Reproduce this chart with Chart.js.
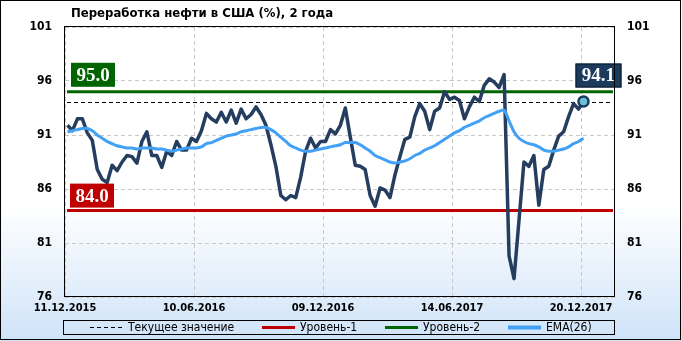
<!DOCTYPE html>
<html lang="ru">
<head>
<meta charset="UTF-8">
<title>Переработка нефти в США</title>
<script src="https://cdn.jsdelivr.net/npm/chart.js"></script>
<style>
  html, body { margin: 0; padding: 0; background: #fff; }
  #wrap { width: 682px; height: 341px; }
</style>
</head>
<body>
<div id="wrap"><canvas id="myChart" width="682" height="341"></canvas></div>
<script>
// данные (недельные значения, %)
const refinery = [
  91.9, 91.4, 92.5, 92.5, 91.2, 90.5, 87.8, 86.9, 86.6, 88.2,
  87.7, 88.5, 89.1, 89.0, 88.4, 90.4, 91.3, 89.1, 89.1, 88.0,
  89.5, 89.1, 90.4, 89.6, 89.6, 90.7, 90.4, 91.4, 93.0, 92.5,
  92.2, 93.1, 92.2, 93.3, 92.1, 93.4, 92.5, 92.9, 93.6, 92.9,
  91.9, 90.1, 88.1, 85.4, 85.0, 85.4, 85.2, 87.1, 89.5, 90.7,
  89.8, 90.4, 90.4, 91.5, 91.1, 91.9, 93.5, 90.8, 88.2, 88.1,
  87.8, 85.4, 84.4, 86.1, 85.9, 85.2, 87.3, 89.0, 90.6, 90.8,
  92.7, 93.9, 93.2, 91.5, 93.2, 93.5, 95.0, 94.3, 94.5, 94.2,
  92.5, 93.6, 94.5, 94.1, 95.6, 96.2, 95.9, 95.4, 96.6, 79.8,
  77.7, 83.1, 88.5, 88.1, 89.1, 84.5, 87.8, 88.1, 89.6, 90.9,
  91.3, 92.7, 93.9, 93.4, 94.1
];
const ema26 = [
  91.3, 91.4, 91.5, 91.6, 91.6, 91.4, 91.0, 90.7, 90.4, 90.2,
  90.0, 89.9, 89.8, 89.8, 89.7, 89.8, 89.8, 89.8, 89.7, 89.7,
  89.6, 89.5, 89.6, 89.7, 89.8, 89.8, 89.8, 89.9, 90.2, 90.3,
  90.5, 90.7, 90.9, 91.0, 91.1, 91.3, 91.4, 91.5, 91.6, 91.7,
  91.7, 91.5, 91.2, 90.8, 90.4, 90.0, 89.8, 89.6, 89.5, 89.5,
  89.6, 89.7, 89.8, 89.9, 90.0, 90.1, 90.3, 90.3, 90.3, 90.1,
  89.8, 89.5, 89.1, 88.9, 88.7, 88.5, 88.4, 88.5, 88.6, 88.8,
  89.1, 89.3, 89.6, 89.8, 90.0, 90.3, 90.6, 90.9, 91.2, 91.4,
  91.7, 91.9, 92.1, 92.3, 92.6, 92.8, 93.0, 93.2, 93.3, 92.3,
  91.3, 90.7, 90.4, 90.2, 90.1, 89.9, 89.6, 89.5, 89.5, 89.6,
  89.7, 89.9, 90.2, 90.4, 90.7
];
const xTickLabels = ['11.12.2015', '10.06.2016', '09.12.2016', '14.06.2017', '20.12.2017'];
const xTickWeeks = [0, 26, 52, 78, 104];
const yTicks = [76, 81, 86, 91, 96, 101];
const level1 = 84.0;
const level2 = 95.0;
const currentValue = refinery[refinery.length - 1];
const chartTitle = 'Переработка нефти в США (%), 2 года';

const FONT = "'DejaVu Sans Condensed', 'DejaVu Sans', sans-serif";
const LINE_COLOR = '#253e5f';
const EMA_COLOR = '#42a1f5';
const RED = '#c00000';
const GREEN = '#006400';

// точки сдвинуты на полнедели относительно сетки
const toPoints = arr => arr.map((v, i) => ({ x: i + 0.5, y: v }));

function labelBox(ctx, text, x, y, w, h, fill, border) {
  ctx.save();
  ctx.fillStyle = fill;
  ctx.fillRect(x, y, w, h);
  if (border) {
    ctx.strokeStyle = border;
    ctx.lineWidth = 1;
    ctx.strokeRect(x + 0.5, y + 0.5, w - 1, h - 1);
  }
  ctx.fillStyle = '#fff';
  ctx.font = "bold 19px 'Liberation Serif', serif";
  ctx.textAlign = 'center';
  ctx.textBaseline = 'middle';
  ctx.fillText(text, x + w / 2, y + h / 2 + 1);
  ctx.restore();
}

const decor = {
  id: 'decor',
  beforeDraw(chart) {
    const { ctx, width, height } = chart;
    const g = ctx.createLinearGradient(0, 0, 0, height);
    g.addColorStop(0, '#ffffff');
    g.addColorStop(0.6, '#ffffff');
    g.addColorStop(1, '#cfe3f8');
    ctx.save();
    ctx.fillStyle = g;
    ctx.fillRect(0, 0, width, height);
    ctx.restore();
  },
  beforeDatasetsDraw(chart) {
    const { ctx, chartArea: a } = chart;
    const y = chart.scales.y;
    ctx.save();
    ctx.lineWidth = 3;
    ctx.strokeStyle = GREEN;
    ctx.beginPath();
    ctx.moveTo(a.left + 2, y.getPixelForValue(level2));
    ctx.lineTo(a.right - 2, y.getPixelForValue(level2));
    ctx.stroke();
    ctx.strokeStyle = RED;
    ctx.beginPath();
    ctx.moveTo(a.left + 2, y.getPixelForValue(level1));
    ctx.lineTo(a.right - 2, y.getPixelForValue(level1));
    ctx.stroke();
    const cy = Math.round(y.getPixelForValue(currentValue)) + 0.5;
    ctx.lineWidth = 1;
    ctx.strokeStyle = '#000';
    ctx.setLineDash([4, 3]);
    ctx.beginPath();
    ctx.moveTo(a.left + 2, cy);
    ctx.lineTo(a.right - 2, cy);
    ctx.stroke();
    ctx.restore();
  },
  afterDatasetsDraw(chart) {
    const { ctx, chartArea: a } = chart;
    const y = chart.scales.y;
    const x = chart.scales.x;
    labelBox(ctx, level2.toFixed(1), a.left + 6, y.getPixelForValue(level2) - 29, 44, 24, GREEN);
    labelBox(ctx, level1.toFixed(1), a.left + 5, y.getPixelForValue(level1) - 27, 44, 24, RED);
    const px = x.getPixelForValue(refinery.length - 0.5);
    const py = y.getPixelForValue(currentValue);
    labelBox(ctx, currentValue.toFixed(1), px - 8, py - 38, 46, 24, '#1b3a5c', '#0a1a2a');
  },
  afterDraw(chart) {
    const { ctx, chartArea: a, width, height } = chart;
    ctx.save();
    // рамка графика
    ctx.strokeStyle = '#000';
    ctx.lineWidth = 1;
    ctx.strokeRect(Math.round(a.left) - 0.5, Math.round(a.top) - 0.5, a.right - a.left, a.bottom - a.top);
    // внешняя рамка
    ctx.strokeRect(0.5, 0.5, width - 2, height - 2);

    // заголовок
    ctx.fillStyle = '#000';
    ctx.font = 'bold 13px ' + FONT;
    ctx.textBaseline = 'middle';
    ctx.fillText(chartTitle, 71, 14);

    // легенда
    ctx.strokeRect(63.5, 320.5, 551, 14);
    const ly = 328;
    ctx.font = '12px ' + FONT;
    const items = [
      { x: 90, text: 'Текущее значение', color: '#000', w: 1, dash: [4, 3] },
      { x: 262, text: 'Уровень-1', color: RED, w: 3 },
      { x: 385, text: 'Уровень-2', color: GREEN, w: 3 },
      { x: 508, text: 'EMA(26)', color: EMA_COLOR, w: 4 }
    ];
    items.forEach(it => {
      ctx.save();
      ctx.strokeStyle = it.color;
      ctx.lineWidth = it.w;
      if (it.dash) ctx.setLineDash(it.dash);
      ctx.beginPath();
      ctx.moveTo(it.x, ly - 0.5);
      ctx.lineTo(it.x + 33, ly - 0.5);
      ctx.stroke();
      ctx.restore();
      ctx.fillText(it.text, it.x + 38, ly);
    });
    ctx.restore();
  }
};

const gridStyle = { color: '#c8c8c8', lineWidth: 1, drawTicks: false };
const tickFont = { family: FONT, weight: 'bold', size: 12 };

const ctx = document.getElementById('myChart').getContext('2d');
const myChart = new Chart(ctx, {
  type: 'line',
  data: {
    datasets: [{
      label: 'EMA(26)',
      data: toPoints(ema26),
      borderColor: EMA_COLOR,
      borderWidth: 3,
      pointRadius: 0,
      tension: 0.3,
      yAxisID: 'y'
    }, {
      label: 'Переработка',
      data: toPoints(refinery),
      borderColor: LINE_COLOR,
      borderWidth: 3.5,
      borderJoinStyle: 'round',
      tension: 0,
      pointRadius: c => (c.dataIndex === refinery.length - 1 ? 5 : 0),
      pointBackgroundColor: '#6cc0d6',
      pointBorderColor: '#1b3a5c',
      pointBorderWidth: 2.5,
      yAxisID: 'y'
    }]
  },
  options: {
    responsive: false,
    animation: false,
    events: [],
    layout: { padding: { top: 27, left: 0, right: 0, bottom: 0 } },
    plugins: { legend: { display: false }, tooltip: { enabled: false } },
    scales: {
      x: {
        type: 'linear',
        min: 0,
        max: 110.85,
        afterBuildTicks: s => { s.ticks = xTickWeeks.map(v => ({ value: v })); },
        afterFit: s => { s.height = 44; },
        grid: gridStyle,
        border: { display: false, dash: [4, 3] },
        ticks: {
          autoSkip: false,
          maxRotation: 0,
          padding: 5,
          color: '#000',
          font: { family: FONT, weight: 'bold', size: 11 },
          callback: v => xTickLabels[xTickWeeks.indexOf(v)]
        }
      },
      y: {
        position: 'left',
        min: yTicks[0],
        max: yTicks[yTicks.length - 1],
        afterBuildTicks: s => { s.ticks = yTicks.map(v => ({ value: v })); },
        afterFit: s => { s.width = 65; },
        grid: gridStyle,
        border: { display: false, dash: [4, 3] },
        ticks: { padding: 13, color: '#000', font: tickFont }
      },
      y2: {
        position: 'right',
        min: yTicks[0],
        max: yTicks[yTicks.length - 1],
        afterBuildTicks: s => { s.ticks = yTicks.map(v => ({ value: v })); },
        afterFit: s => { s.width = 67; },
        grid: { display: false, drawTicks: false },
        border: { display: false },
        ticks: { padding: 12, color: '#000', font: tickFont }
      }
    }
  },
  plugins: [decor]
});
</script>
</body>
</html>
